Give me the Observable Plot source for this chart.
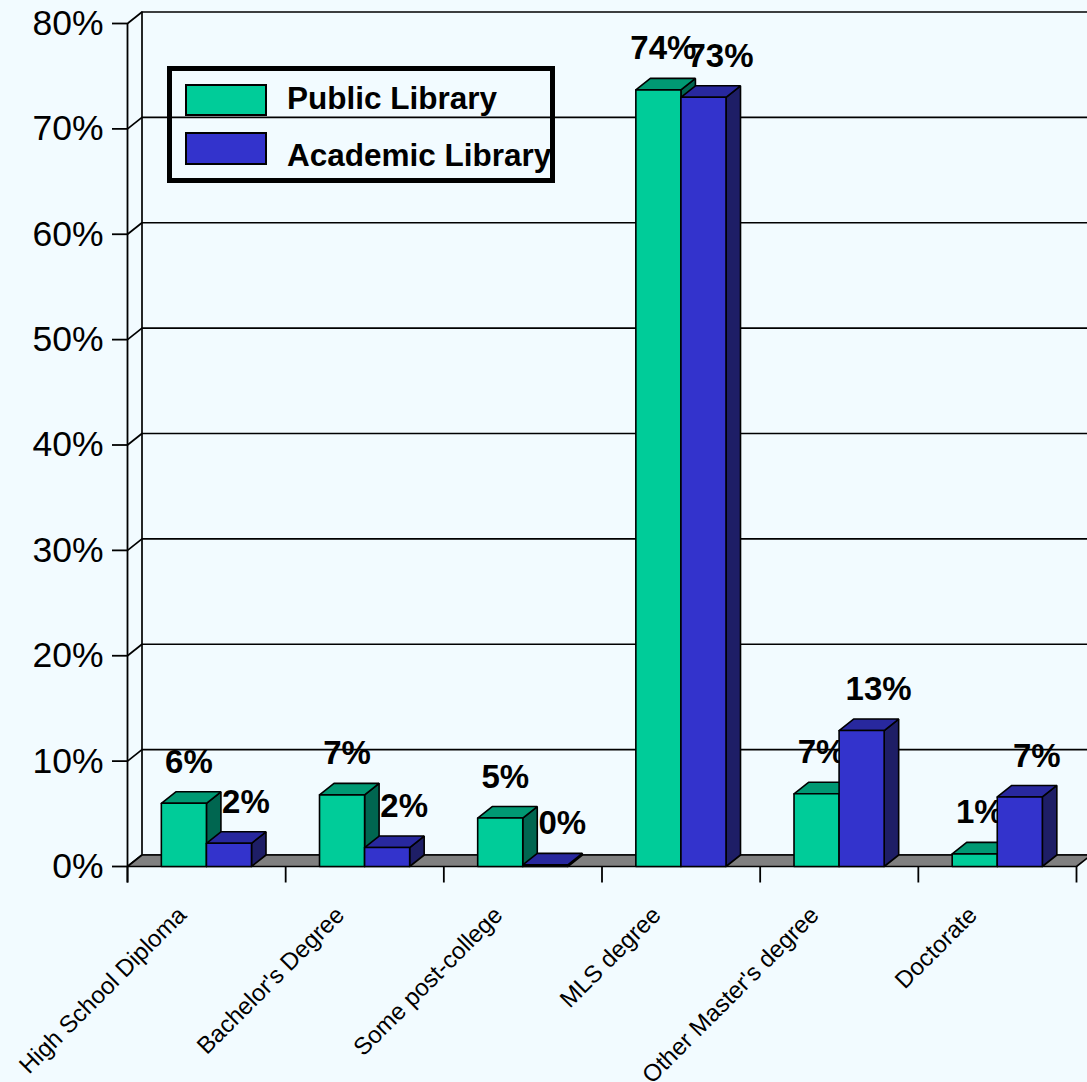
<!DOCTYPE html>
<html>
<head>
<meta charset="utf-8">
<script src="https://cdn.jsdelivr.net/npm/d3@7"></script>
<script src="https://cdn.jsdelivr.net/npm/@observablehq/plot@0.6"></script>
<style>
  html, body { margin: 0; padding: 0; background: #F2FBFF; }
  #wrap { position: relative; width: 1087px; height: 1082px; overflow: hidden; }
  #wrap > svg.legend { position: absolute; left: 0; top: 0; pointer-events: none; }
</style>
</head>
<body>
<div id="wrap"></div>
<script>
// ---- data ----
const categories = ["High School Diploma", "Bachelor's Degree", "Some post-college", "MLS degree", "Other Master's degree", "Doctorate"];
const seriesNames = ["Public Library", "Academic Library"];
const publicLibrary = [6.0, 6.8, 4.6, 73.7, 6.9, 1.2];
const academicLibrary = [2.2, 1.8, 0.15, 73.0, 12.9, 6.6];
const yTicks = [0, 10, 20, 30, 40, 50, 60, 70, 80];

// ---- layout ----
const W = 1087, H = 1082;
const mL = 127, mR = 11, mT = 23, mB = 216;
const xPerPx = categories.length / (W - mL - mR);
const yPerPx = 80 / (H - mT - mB);
const DX = 14.5 * xPerPx, DY = 11.5 * yPerPx;     // 3-D depth in data units
const TICK = 16.5 * yPerPx;
const barStart = 0.214, barWidth = 0.285;

const palette = [
  {front: "#00CC99", top: "#009973", side: "#006650"},
  {front: "#3333CC", top: "#28289E", side: "#1E1E66"}
];

function faces(values, s) {
  const rows = [];
  values.forEach((v, i) => {
    const x0 = i + barStart + s * barWidth, x1 = x0 + barWidth;
    const c = palette[s];
    const polys = [
      ["side", c.side, [[x1, 0], [x1, v], [x1 + DX, v + DY], [x1 + DX, DY], [x1, 0]]],
      ["top", c.top, [[x0, v], [x1, v], [x1 + DX, v + DY], [x0 + DX, v + DY], [x0, v]]],
      ["front", c.front, [[x0, 0], [x1, 0], [x1, v], [x0, v], [x0, 0]]]
    ];
    for (const [name, color, pts] of polys) {
      for (const [x, y] of pts) rows.push({id: `${s}-${i}-${name}`, color, x, y});
    }
  });
  return rows;
}
const floor = [[0, 0], [categories.length, 0], [categories.length + DX, DY], [DX, DY], [0, 0]]
  .map(([x, y]) => ({id: "floor", color: "#808080", x, y}));

const fmt = v => `${Math.round(v)}%`;
const labelFont = {fontSize: 33, fontWeight: "bold", fill: "#000", lineAnchor: "middle"};

const polyOpts = {x: "x", y: "y", z: "id", fill: "color", stroke: "#000", strokeWidth: 1.6, strokeLinejoin: "miter", curve: "linear"};

const chart = Plot.plot({
  width: W, height: H,
  marginLeft: mL, marginRight: mR, marginTop: mT, marginBottom: mB,
  style: {background: "#F2FBFF", fontFamily: "'Liberation Sans', Arial, sans-serif", color: "#000"},
  x: {type: "linear", domain: [0, categories.length], axis: null, label: null},
  y: {type: "linear", domain: [0, 80], axis: null, label: null},
  color: {type: "identity"},
  marks: [
    // back wall
    Plot.ruleY(yTicks, {y: d => d + DY, x1: DX, x2: categories.length + DX + 1, stroke: "#000", strokeWidth: 1.7}),
    Plot.ruleX([DX], {y1: DY, y2: 80 + DY, stroke: "#000", strokeWidth: 1.7}),
    Plot.link(yTicks, {x1: 0, y1: d => d, x2: DX, y2: d => d + DY, stroke: "#000", strokeWidth: 1.7}),
    // front axis
    Plot.ruleX([0], {y1: -TICK, y2: 80, stroke: "#000", strokeWidth: 1.8}),
    Plot.ruleX(d3.range(categories.length + 1), {y1: 0, y2: -TICK, stroke: "#000", strokeWidth: 1.8}),
    Plot.axisY(yTicks, {tickSize: 15, tickPadding: 9, tickFormat: d => `${d}%`, fontSize: 35.5, strokeWidth: 1.8, label: null}),
    // floor
    Plot.line(floor, polyOpts),
    // blue labels (behind bars)
    Plot.text(academicLibrary, {x: (d, i) => i + barStart + 1.5 * barWidth, y: d => d, text: fmt, dx: 17, dy: -41, ...labelFont}),
    // green bars
    Plot.line(faces(publicLibrary, 0), polyOpts),
    Plot.text(publicLibrary, {x: (d, i) => i + barStart + 0.5 * barWidth, y: d => d, text: fmt, dx: 5, dy: -41, ...labelFont}),
    // blue bars
    Plot.line(faces(academicLibrary, 1), polyOpts),
    // category labels
    Plot.text(categories, {x: (d, i) => i + 0.5, y: 0, text: d => d, rotate: -45, textAnchor: "end", lineAnchor: "bottom", dx: -19, dy: 50, fontSize: 24, fill: "#000"})
  ]
});
document.getElementById("wrap").appendChild(chart);

// ---- legend (overlay) ----
const leg = d3.select("#wrap").append("svg").attr("class", "legend").attr("width", W).attr("height", H);
leg.append("rect").attr("x", 169.5).attr("y", 68.5).attr("width", 383).attr("height", 112)
  .attr("fill", "none").attr("stroke", "#000").attr("stroke-width", 5);
const items = [
  {name: seriesNames[0], color: palette[0].front, sy: 85, sh: 30, ty: 109},
  {name: seriesNames[1], color: palette[1].front, sy: 133, sh: 31, ty: 166}
];
for (const it of items) {
  leg.append("rect").attr("x", 186).attr("y", it.sy).attr("width", 80).attr("height", it.sh)
    .attr("fill", it.color).attr("stroke", "#000").attr("stroke-width", 2);
  leg.append("text").attr("x", 287).attr("y", it.ty).text(it.name)
    .attr("font-family", "'Liberation Sans', Arial, sans-serif").attr("font-weight", "bold").attr("font-size", 31.5).attr("fill", "#000");
}
</script>
</body>
</html>
